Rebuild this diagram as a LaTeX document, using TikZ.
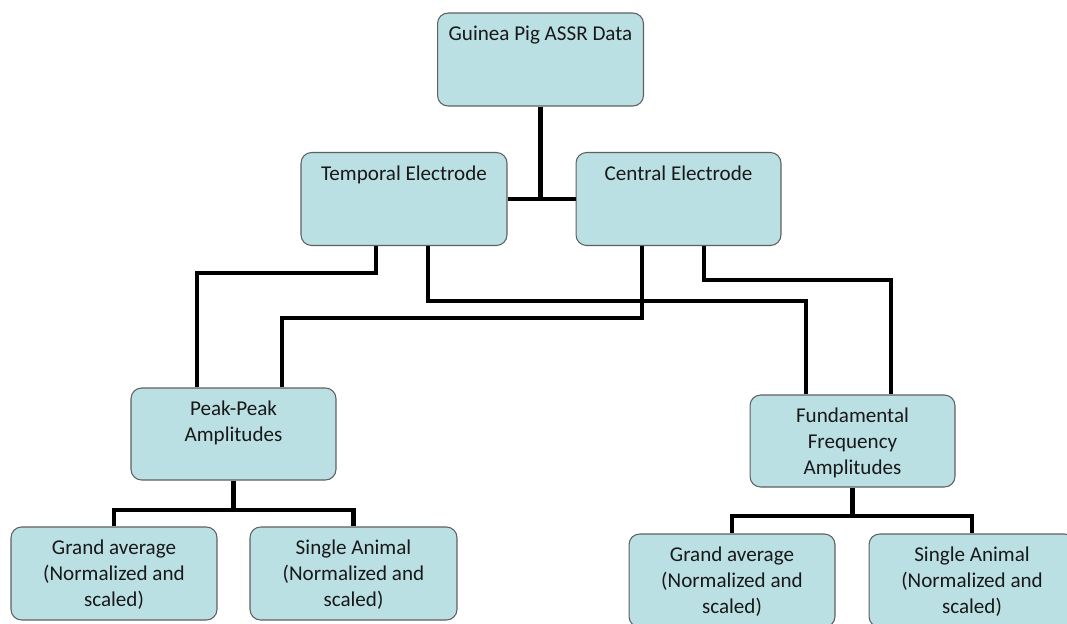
\documentclass[tikz,border=0pt]{standalone}
\usepackage{fontspec}
\setmainfont{Carlito}
\definecolor{boxfill}{RGB}{186,224,227}
\definecolor{boxline}{RGB}{95,95,95}
\begin{document}
\begin{tikzpicture}[x=0.02cm,y=-0.02cm,
  box/.style={draw=boxline, fill=boxfill, line width=0.6pt, rounded corners=6pt,
    minimum width=4.12cm, minimum height=1.86cm, inner sep=0pt},
  txt/.style={anchor=north, inner sep=0pt, align=center,
    font=\fontsize{12}{14.7}\selectfont, text=black!90},
  conn/.style={line width=2.3pt, black, line join=miter}]
\useasboundingbox (0,0) rectangle (1067,623);

% boxes
\node[box] (top)  at (540.5,59.5) {};
\node[box] (temp) at (404,199) {};
\node[box, minimum width=4.1cm] (cent) at (678.5,199) {};
\node[box, minimum width=4.1cm, minimum height=1.84cm] (peak) at (233.5,434) {};
\node[box, minimum width=4.1cm, minimum height=1.84cm] (fund) at (852.5,441) {};
\node[box] (ga1) at (114,573.5) {};
\node[box, minimum width=4.14cm] (sa1) at (353.5,573.5) {};
\node[box] (ga2) at (732,580.5) {};
\node[box] (sa2) at (972,580.5) {};

% texts
\node[txt] (ttop)  at ([yshift=-5.7pt]top.north)  {\strut Guinea Pig ASSR Data};
\node[txt] (ttemp) at ([yshift=-5.7pt]temp.north) {\strut Temporal Electrode};
\node[txt] (tcent) at ([yshift=-5.7pt]cent.north) {\strut Central Electrode};
\node[txt] (tpeak) at ([yshift=-5.7pt]peak.north) {\strut Peak-Peak\\\strut Amplitudes};
\node[txt] (tfund) at ([yshift=-5.7pt]fund.north) {\strut Fundamental\\\strut Frequency\\\strut Amplitudes};
\node[txt] (tga1) at ([yshift=-5.7pt]ga1.north) {\strut Grand average\\\strut (Normalized and\\\strut scaled)};
\node[txt] (tsa1) at ([yshift=-5.7pt]sa1.north) {\strut Single Animal\\\strut (Normalized and\\\strut scaled)};
\node[txt] (tga2) at ([yshift=-5.7pt]ga2.north) {\strut Grand average\\\strut (Normalized and\\\strut scaled)};
\node[txt] (tsa2) at ([yshift=-5.7pt]sa2.north) {\strut Single Animal\\\strut (Normalized and\\\strut scaled)};

% connectors
\draw[conn] (top.south) -- (top.south |- temp.east);
\draw[conn] (temp.east) -- (cent.west);
\draw[conn] (temp.south -| 376,0) |- (197,273) -- (peak.north -| 197,0);
\draw[conn] (temp.south -| 428,0) |- (806,301) -- (fund.north -| 806,0);
\draw[conn] (cent.south -| 642,0) |- (282,318) -- (peak.north -| 282,0);
\draw[conn] (cent.south -| 704,0) |- (891,280) -- (fund.north -| 891,0);
\draw[conn] (peak.south) -- (peak.south |- 0,510);
\draw[conn] (ga1.north) |- (233,510) -| (sa1.north);
\draw[conn] (fund.south) -- (fund.south |- 0,516);
\draw[conn] (ga2.north) |- (852,516) -| (sa2.north);
\end{tikzpicture}
\end{document}
